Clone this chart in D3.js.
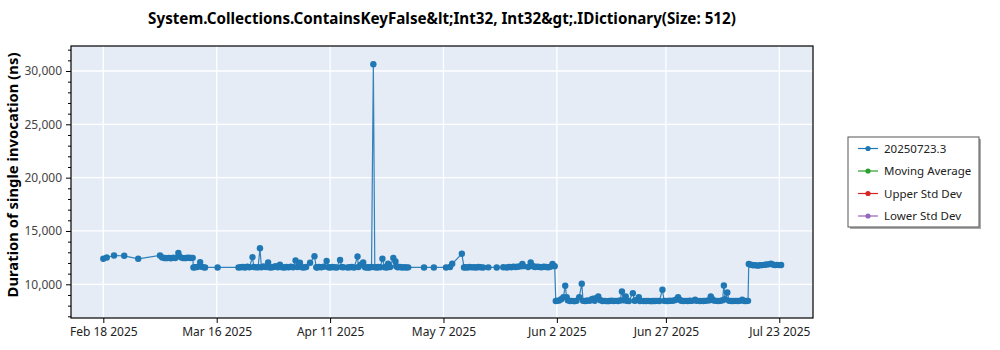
<!DOCTYPE html>
<html><head><meta charset="utf-8">
<script src="https://cdn.jsdelivr.net/npm/d3@7"></script>
<style>body{margin:0;background:#fff;} svg{display:block;}</style>
</head><body><svg id="c" width="1000" height="350"></svg>
<script>
const chartTitle = "System.Collections.ContainsKeyFalse&lt;Int32, Int32&gt;.IDictionary(Size: 512)";
const yAxisTitle = "Duration of single invocation (ns)";
const seriesNames = ["20250723.3", "Moving Average", "Upper Std Dev", "Lower Std Dev"];
const seriesColors = ["#1f77b4", "#2ca02c", "#d62728", "#9467bd"];

const runDates = [
"2025-02-18","2025-02-18T19:00","2025-02-20T11:00","2025-02-22T19:00","2025-02-26",
"2025-03-03","2025-03-03T12:00","2025-03-04","2025-03-04T12:00","2025-03-05","2025-03-05T12:00",
"2025-03-06","2025-03-06T12:00","2025-03-07T05:00","2025-03-07T12:00","2025-03-08","2025-03-08T12:00",
"2025-03-09","2025-03-09T12:00","2025-03-10","2025-03-10T12:00","2025-03-10T16:00","2025-03-11",
"2025-03-11T12:00","2025-03-12T05:00","2025-03-12T12:00","2025-03-13","2025-03-13T08:00","2025-03-16T05:00",
"2025-03-21","2025-03-21T12:00","2025-03-22","2025-03-22T12:00","2025-03-23","2025-03-23T12:00",
"2025-03-24T05:00","2025-03-24T12:00","2025-03-25","2025-03-25T12:00","2025-03-25T22:00","2025-03-26T06:00",
"2025-03-26T18:00","2025-03-27T06:00","2025-03-27T19:00","2025-03-28","2025-03-28T12:00","2025-03-29",
"2025-03-29T12:00","2025-03-30","2025-03-30T12:00","2025-03-31","2025-03-31T12:00","2025-04-01",
"2025-04-01T12:00","2025-04-02","2025-04-02T12:00","2025-04-03T02:00","2025-04-03T12:00","2025-04-04T02:00",
"2025-04-04T12:00","2025-04-05","2025-04-05T12:00","2025-04-06T10:00","2025-04-07T10:00","2025-04-07T20:00",
"2025-04-08","2025-04-08T12:00","2025-04-09","2025-04-09T12:00","2025-04-10T05:00","2025-04-10T14:00",
"2025-04-11","2025-04-11T12:00","2025-04-12","2025-04-12T12:00","2025-04-13T07:00","2025-04-13T16:00",
"2025-04-14","2025-04-15","2025-04-15T12:00","2025-04-16","2025-04-16T12:00","2025-04-17T07:00",
"2025-04-17T12:00","2025-04-18","2025-04-18T14:00","2025-04-19","2025-04-19T10:00","2025-04-19T19:00",
"2025-04-20","2025-04-20T12:00","2025-04-20T22:00","2025-04-21T06:00","2025-04-21T18:00","2025-04-22",
"2025-04-22T12:00","2025-04-23","2025-04-23T12:00","2025-04-24","2025-04-24T07:00","2025-04-24T18:00",
"2025-04-25T12:00","2025-04-26","2025-04-26T04:00","2025-04-26T12:00","2025-04-27","2025-04-27T12:00",
"2025-04-28","2025-04-28T12:00","2025-04-28T22:00",
"2025-05-02T13:00","2025-05-04T19:00","2025-05-07T14:00","2025-05-08T12:00","2025-05-09","2025-05-11T05:00",
"2025-05-11T17:00","2025-05-12","2025-05-12T12:00","2025-05-13","2025-05-13T12:00","2025-05-14",
"2025-05-14T12:00","2025-05-15","2025-05-15T12:00","2025-05-16T02:00","2025-05-17T07:00","2025-05-19T05:00",
"2025-05-20T17:00","2025-05-21T12:00","2025-05-22","2025-05-22T12:00","2025-05-23","2025-05-23T12:00",
"2025-05-24","2025-05-24T12:00","2025-05-25T02:00","2025-05-25T07:00","2025-05-26T10:00","2025-05-27",
"2025-05-27T08:00","2025-05-27T16:00","2025-05-28","2025-05-28T12:00","2025-05-29","2025-05-29T12:00",
"2025-05-30","2025-05-30T12:00","2025-05-31","2025-05-31T12:00","2025-06-01","2025-06-01T12:00",
"2025-06-01T18:00","2025-06-02","2025-06-02T12:00","2025-06-03","2025-06-03T12:00","2025-06-03T22:00",
"2025-06-04T06:00","2025-06-04T12:00","2025-06-05","2025-06-05T12:00","2025-06-06","2025-06-06T12:00",
"2025-06-07T03:00","2025-06-07T17:00","2025-06-08","2025-06-08T12:00","2025-06-09","2025-06-09T12:00",
"2025-06-10","2025-06-10T08:00","2025-06-10T16:00","2025-06-11","2025-06-11T12:00","2025-06-12",
"2025-06-12T12:00","2025-06-13","2025-06-13T12:00","2025-06-14","2025-06-14T12:00","2025-06-15",
"2025-06-15T12:00","2025-06-16","2025-06-16T12:00","2025-06-16T22:00","2025-06-17T06:00","2025-06-17T19:00",
"2025-06-18","2025-06-18T12:00","2025-06-19T10:00","2025-06-19T20:00","2025-06-20","2025-06-20T19:00",
"2025-06-21T01:00","2025-06-21T22:00","2025-06-22T12:00","2025-06-23","2025-06-23T12:00","2025-06-24",
"2025-06-24T12:00","2025-06-25","2025-06-25T12:00","2025-06-26T05:00","2025-06-26T14:00","2025-06-27",
"2025-06-27T12:00","2025-06-28","2025-06-28T12:00","2025-06-29","2025-06-29T12:00","2025-06-29T19:00",
"2025-06-30T04:00","2025-06-30T12:00","2025-07-01","2025-07-01T12:00","2025-07-02","2025-07-02T12:00",
"2025-07-03","2025-07-03T17:00","2025-07-04","2025-07-04T19:00","2025-07-05T14:00","2025-07-06",
"2025-07-06T12:00","2025-07-07","2025-07-07T07:00","2025-07-07T16:00","2025-07-08","2025-07-08T12:00",
"2025-07-09","2025-07-09T12:00","2025-07-10","2025-07-10T07:00","2025-07-10T14:00","2025-07-11T02:00",
"2025-07-11T12:00","2025-07-12","2025-07-12T12:00","2025-07-13","2025-07-13T12:00","2025-07-14",
"2025-07-14T12:00","2025-07-15","2025-07-15T12:00","2025-07-15T20:00",
"2025-07-16","2025-07-16T12:00","2025-07-17","2025-07-17T12:00","2025-07-18","2025-07-18T12:00",
"2025-07-19","2025-07-19T12:00","2025-07-20","2025-07-20T12:00","2025-07-21T02:00","2025-07-21T12:00",
"2025-07-22","2025-07-22T12:00","2025-07-23","2025-07-23T10:00"
];
const runValues = [
12390,12510,12700,12670,12390,
12700,12520,12470,12450,12480,12440,
12500,12460,12930,12600,12480,12450,
12470,12490,12460,12480,11580,11600,
11620,12080,11650,11590,11580,11580,
11580,11600,11620,11580,11650,11600,
12550,11620,11590,11600,13380,11600,
11680,11620,12040,11600,11580,11620,
11700,11600,11830,11600,11580,11620,
11600,11650,11600,12230,11620,12020,
11600,11580,11620,12020,12630,11600,
11580,11620,11600,11650,12190,11600,
11580,11620,11600,11580,12280,11620,
11600,11580,11600,11620,11580,12600,
11620,11830,12040,11600,11580,11600,
11580,11620,30630,11600,11580,11620,
11600,12390,11600,11580,11920,11620,
12460,12140,11700,11600,11620,11580,
11600,11580,11590,
11580,11580,11580,11620,11920,12860,
11580,11600,11580,11620,11590,11600,
11580,11620,11600,11580,11590,11580,
11600,11580,11620,11600,11640,11620,
11650,11680,11900,11700,11620,12040,
11750,11680,11620,11650,11620,11600,
11650,11620,11600,11650,11900,11700,
8430,8450,8480,8600,8800,9860,
8800,8500,8430,8450,8420,8460,
8800,10050,8450,8430,8480,8450,
8600,8650,8450,8700,8860,8500,
8430,8450,8420,8440,8460,8430,
8450,8440,8480,9330,8500,8860,
8450,8430,9170,8450,8500,8800,
8430,8440,8430,8450,8420,8440,
8430,8450,8440,9490,8450,8430,
8440,8460,8450,8500,8600,8800,
8550,8450,8430,8450,8440,8460,
8450,8550,8450,8430,8440,8450,
8470,8500,8860,8600,8470,8450,
8430,8450,8500,9890,8600,9230,
8450,8430,8440,8450,8430,8450,
8550,8440,8430,8450,
11900,11830,11780,11800,11750,11780,
11800,11820,11850,11870,11920,11850,
11800,11820,11800,11810
];

const xTickDates = ["2025-02-18","2025-03-16","2025-04-11","2025-05-07","2025-06-02","2025-06-27","2025-07-23"];
const xTickLabels = ["Feb 18 2025","Mar 16 2025","Apr 11 2025","May 7 2025","Jun 2 2025","Jun 27 2025","Jul 23 2025"];
const yTickValues = [10000, 15000, 20000, 25000, 30000];
const yTickLabels = ["10,000", "15,000", "20,000", "25,000", "30,000"];
const yMinorStep = 1000;
const xDomainDates = ["2025-02-10T14:10", "2025-07-30T17:30"];
const yDomainValues = [6840, 32344];

const parseDate = s => new Date(s.length > 10 ? s : s + "T00:00");
const data = runDates.map((d, i) => ({ date: parseDate(d), value: runValues[i] }));

const svg = d3.select("#c");
const plot = { left: 71, right: 813, top: 46, bottom: 318 };
const font = "'Noto Sans', 'Open Sans', sans-serif";

const x = d3.scaleTime().domain(xDomainDates.map(parseDate)).range([plot.left, plot.right]);
const y = d3.scaleLinear().domain(yDomainValues).range([plot.bottom, plot.top]);

// background
svg.append("rect").attr("x", plot.left).attr("y", plot.top)
  .attr("width", plot.right - plot.left).attr("height", plot.bottom - plot.top)
  .attr("fill", "#e5ecf6");

// grid
const grid = svg.append("g");
grid.selectAll("line.gx").data(xTickDates.map(parseDate)).join("line")
  .attr("x1", d => x(d)).attr("x2", d => x(d)).attr("y1", plot.top).attr("y2", plot.bottom)
  .attr("stroke", "#fff").attr("stroke-width", 1.3);
grid.selectAll("line.gy").data(yTickValues).join("line")
  .attr("y1", d => y(d)).attr("y2", d => y(d)).attr("x1", plot.left).attr("x2", plot.right)
  .attr("stroke", "#fff").attr("stroke-width", 1.3);

// y axis
const minorY = d3.range(Math.ceil(yDomainValues[0] / yMinorStep) * yMinorStep, yDomainValues[1], yMinorStep)
  .filter(v => !yTickValues.includes(v));
const yAxis = d3.axisLeft(y).tickValues(yTickValues).tickFormat((d, i) => yTickLabels[i]).tickSize(5).tickPadding(4);
const gy = svg.append("g").attr("transform", `translate(${plot.left},0)`).call(yAxis);
gy.select(".domain").remove();
gy.selectAll("text").attr("font-family", font).attr("font-size", 12).attr("fill", "#444");
gy.selectAll("line").attr("stroke", "#000");
const yMinorAxis = d3.axisLeft(y).tickValues(minorY).tickFormat("").tickSize(3);
const gym = svg.append("g").attr("transform", `translate(${plot.left},0)`).call(yMinorAxis);
gym.select(".domain").remove();
gym.selectAll("line").attr("stroke", "#000");

// x axis
const xAxis = d3.axisBottom(x).tickValues(xTickDates.map(parseDate))
  .tickFormat((d, i) => xTickLabels[i]).tickSize(5).tickPadding(4);
const gx = svg.append("g").attr("transform", `translate(0,${plot.bottom})`).call(xAxis);
gx.select(".domain").remove();
gx.selectAll("text").attr("font-family", font).attr("font-size", 12).attr("fill", "#222");
gx.selectAll("line").attr("stroke", "#000");

// series
const line = d3.line().x(d => x(d.date)).y(d => y(d.value));
svg.append("path").datum(data).attr("d", line).attr("fill", "none")
  .attr("stroke", seriesColors[0]).attr("stroke-width", 1.2).attr("stroke-opacity", 0.9);
svg.append("g").selectAll("circle").data(data).join("circle")
  .attr("cx", d => x(d.date)).attr("cy", d => y(d.value)).attr("r", 3.2)
  .attr("fill", seriesColors[0]);

// frame
svg.append("rect").attr("x", plot.left).attr("y", plot.top)
  .attr("width", plot.right - plot.left).attr("height", plot.bottom - plot.top)
  .attr("fill", "none").attr("stroke", "#000").attr("stroke-width", 1.2);

// title
svg.append("text").attr("x", (plot.left + plot.right) / 2).attr("y", 24)
  .attr("text-anchor", "middle").attr("font-family", font).attr("font-weight", "bold")
  .attr("font-size", 15.2).attr("fill", "#000").text(chartTitle);

// y title
svg.append("text").attr("transform", "translate(18,175) rotate(-90)")
  .attr("text-anchor", "middle").attr("font-family", font).attr("font-weight", "bold")
  .attr("font-size", 14.8).attr("fill", "#000").text(yAxisTitle);

// legend
const lg = svg.append("g").attr("transform", "translate(848,137)");
lg.append("rect").attr("x", 2).attr("y", 2).attr("width", 131).attr("height", 90).attr("fill", "#aaa");
lg.append("rect").attr("x", 0).attr("y", 0).attr("width", 131).attr("height", 90)
  .attr("fill", "#fff").attr("stroke", "#555").attr("stroke-width", 1);
const items = lg.selectAll("g.item").data(seriesNames).join("g")
  .attr("transform", (d, i) => `translate(0,${11.5 + i * 22.5})`);
items.append("line").attr("x1", 10).attr("x2", 30).attr("y1", 0).attr("y2", 0)
  .attr("stroke", (d, i) => seriesColors[i]).attr("stroke-width", 1.2);
items.append("circle").attr("cx", 20).attr("cy", 0).attr("r", 2.6).attr("fill", (d, i) => seriesColors[i]);
items.append("text").attr("x", 36).attr("y", 0).attr("dy", "0.35em")
  .attr("font-family", font).attr("font-size", 11.5).attr("fill", "#222").text(d => d);
</script></body></html>
